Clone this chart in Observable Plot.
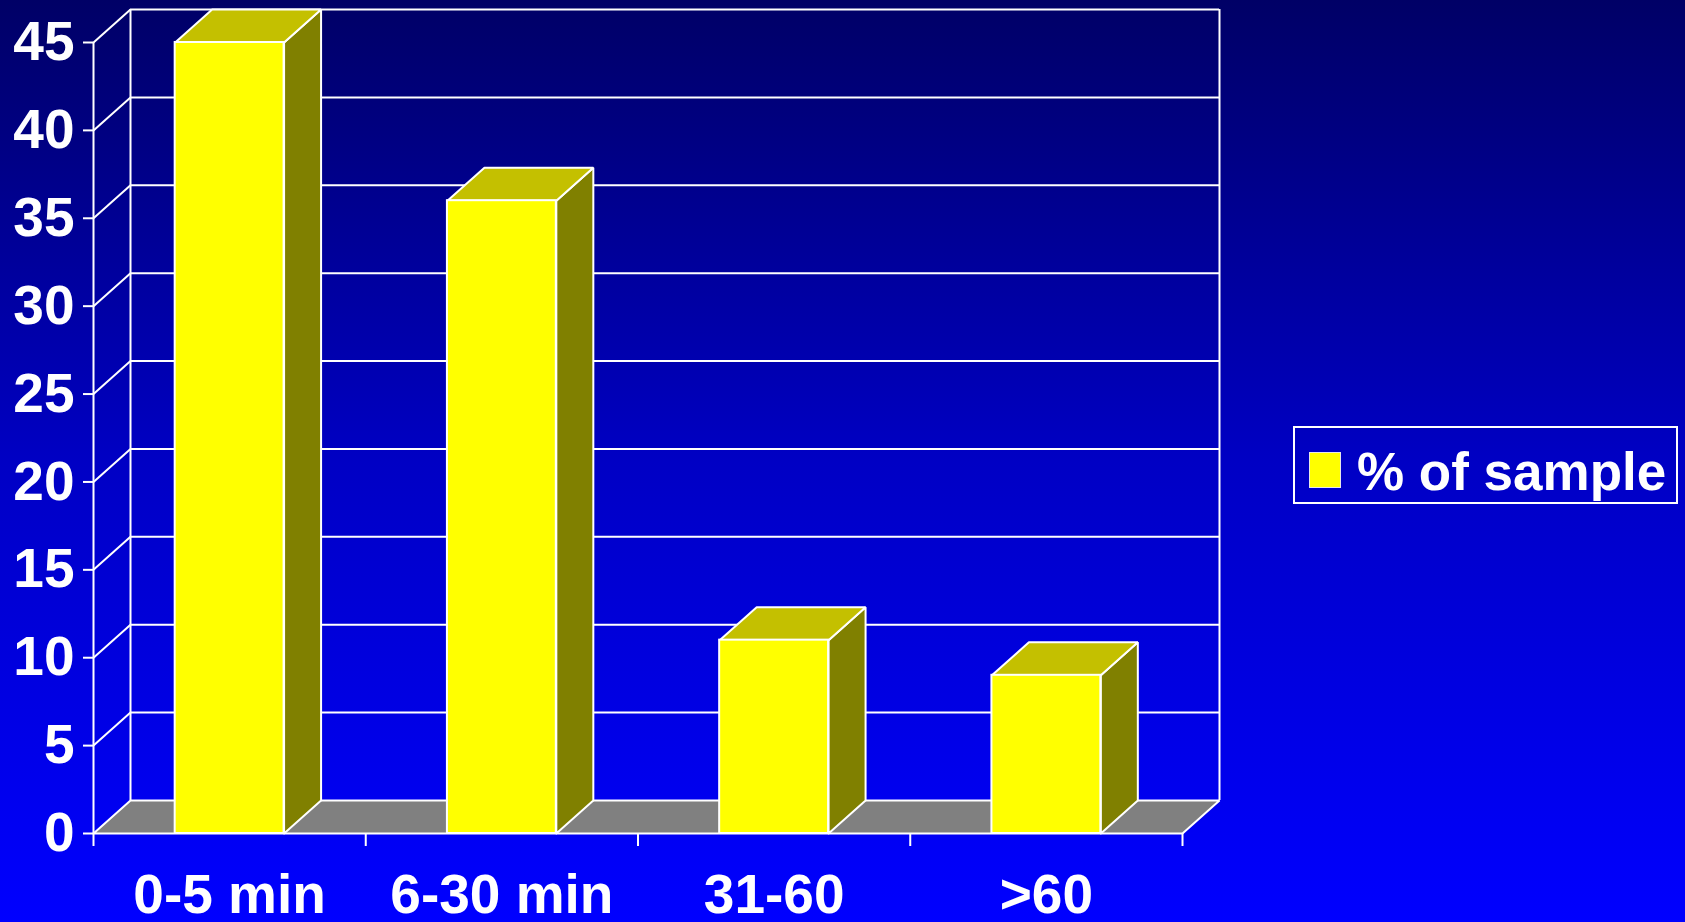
<!DOCTYPE html>
<html>
<head>
<meta charset="utf-8">
<script src="https://cdn.jsdelivr.net/npm/d3@7"></script>
<script src="https://cdn.jsdelivr.net/npm/@observablehq/plot@0.6"></script>
<style>
  html, body { margin: 0; padding: 0; }
  body {
    width: 1685px; height: 922px; overflow: hidden; position: relative;
    background: linear-gradient(to bottom, #000066 0%, #0000c4 50%, #0000ff 100%);
    font-family: "Liberation Sans", Arial, sans-serif;
  }
  #chart { position: absolute; left: 0; top: 0; }
  .legend {
    position: absolute; left: 1293px; top: 426px; width: 385px; height: 78px;
    border: 2px solid #ffffff; box-sizing: border-box;
  }
  .legend .swatch {
    position: absolute; left: 14px; top: 24px; width: 30px; height: 34px;
    background: #ffff00; border: 1px solid #e8e8e8;
  }
  .legend .label {
    position: absolute; left: 62px; top: 17px; line-height: 1;
    font-size: 53px; font-weight: bold; color: #ffffff; white-space: nowrap;
  }
</style>
</head>
<body>
<div id="chart"></div>
<div class="legend"><span class="swatch"></span><span class="label" id="legend-label"></span></div>
<script>
// Response-time categories and the share of the sample in each
const categories = ["0-5 min", "6-30 min", "31-60", ">60"];
const percent = [45, 36, 11, 9];
const yTicks = [0, 5, 10, 15, 20, 25, 30, 35, 40, 45];
const seriesName = "% of sample";

// Layout
const width = 1685, height = 922;
const margin = {top: 42, right: 503, bottom: 89, left: 93};
const xDomain = [-0.5, categories.length - 0.5];
const yDomain = [0, 45];
const barHalf = 0.2;                 // half bar width, in category units
const depthPx = {x: 37, y: 33};      // oblique depth of the 3-D box, in pixels

// Depth expressed in data units so every face goes through the x/y scales
const unitX = (width - margin.left - margin.right) / (xDomain[1] - xDomain[0]);
const unitY = (height - margin.top - margin.bottom) / (yDomain[1] - yDomain[0]);
const ddx = depthPx.x / unitX, ddy = depthPx.y / unitY;

const colors = {front: "#ffff00", top: "#c4c000", side: "#808000", floor: "#808080", edge: "#ffffff"};

const bars = categories.map((c, i) => ({i, c, v: percent[i]}));

// Closed polygon as a list of vertices for a filled line mark
const poly = (id, pts) => [...pts, pts[0]].map(([x, y]) => ({id, x, y}));

const tops = bars.flatMap(b => poly(b.c, [
  [b.i - barHalf, b.v], [b.i + barHalf, b.v],
  [b.i + barHalf + ddx, b.v + ddy], [b.i - barHalf + ddx, b.v + ddy]
]));
const sides = bars.flatMap(b => poly(b.c, [
  [b.i + barHalf, 0], [b.i + barHalf + ddx, ddy],
  [b.i + barHalf + ddx, b.v + ddy], [b.i + barHalf, b.v]
]));
const floor = poly("floor", [
  [xDomain[0], 0], [xDomain[1], 0],
  [xDomain[1] + ddx, ddy], [xDomain[0] + ddx, ddy]
]);

const gridTicks = yTicks.filter(t => t > 0);
const boundaries = d3.range(xDomain[0], xDomain[1] + 0.001, 1);
const edge = {stroke: colors.edge, strokeWidth: 2};

const chart = Plot.plot({
  width, height,
  marginTop: margin.top, marginRight: margin.right,
  marginBottom: margin.bottom, marginLeft: margin.left,
  x: {type: "linear", domain: xDomain},
  y: {type: "linear", domain: yDomain},
  style: {
    background: "transparent", color: "#ffffff", overflow: "visible",
    fontFamily: "'Liberation Sans', Arial, sans-serif", fontSize: "55px"
  },
  marks: [
    // back wall gridlines and edges
    Plot.ruleY(gridTicks, {y: t => t + ddy, x1: xDomain[0] + ddx, x2: xDomain[1] + ddx, ...edge}),
    Plot.ruleX([xDomain[0] + ddx, xDomain[1] + ddx], {x: d => d, y1: ddy, y2: yDomain[1] + ddy, ...edge}),
    // left side wall
    Plot.link(gridTicks, {x1: xDomain[0], y1: t => t, x2: xDomain[0] + ddx, y2: t => t + ddy, ...edge}),
    Plot.ruleX([xDomain[0]], {y1: yDomain[0], y2: yDomain[1], ...edge}),
    // floor
    Plot.line(floor, {x: "x", y: "y", z: "id", fill: colors.floor, ...edge, strokeLinejoin: "miter"}),
    // bars: side, top, front
    Plot.line(sides, {x: "x", y: "y", z: "id", fill: colors.side, ...edge, strokeLinejoin: "miter"}),
    Plot.line(tops, {x: "x", y: "y", z: "id", fill: colors.top, ...edge, strokeLinejoin: "miter"}),
    Plot.rect(bars, {x1: d => d.i - barHalf, x2: d => d.i + barHalf, y1: 0, y2: "v", fill: colors.front, ...edge}),
    // axes
    Plot.axisY({ticks: yTicks, tickSize: 10, tickPadding: 9, fontSize: 55, fontWeight: "bold",
      label: null, stroke: colors.edge, strokeWidth: 2}),
    Plot.axisX({ticks: boundaries, tickSize: 13, tickFormat: () => "", label: null,
      stroke: colors.edge, strokeWidth: 2}),
    Plot.axisX({ticks: bars.map(b => b.i), tickSize: 0, tickPadding: 40, fontSize: 55, fontWeight: "bold",
      tickFormat: i => categories[Math.round(i)], label: null})
  ]
});

document.getElementById("chart").append(chart);
document.getElementById("legend-label").textContent = seriesName;
</script>
</body>
</html>
